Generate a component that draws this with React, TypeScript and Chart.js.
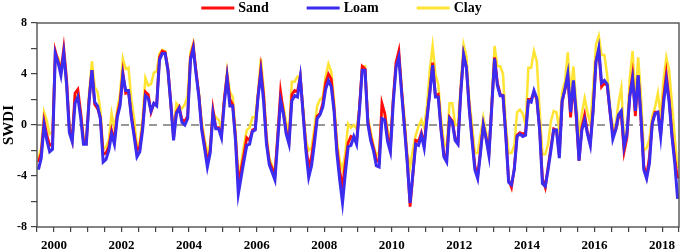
import React, { useEffect, useRef } from 'react';
import { Chart, registerables } from 'chart.js';

Chart.register(...registerables);

// Time axis: monthly values, the axis runs from mid-1999 to mid-2018
const axisStartYear = 1999.5;
const axisEndYear = 2018.5;

const seriesNames = ['Sand', 'Loam', 'Clay'];

const sand = [
  -2.9, -2.2, 0.3, -0.8, -1.6, -1.5, 5.8, 5.0, 4.2, 6.0, 3.6, -0.3,
  -1.2, 2.5, 2.8, 1.0, -1.2, -1.4, 2.0, 4.3, 1.6, 1.3, 0.6, -2.3,
  -2.2, -1.7, -0.4, -1.2, 0.8, 1.8, 4.1, 2.5, 2.6, 0.8, -0.7, -2.0,
  -1.7, -0.2, 2.6, 2.4, 1.0, 1.7, 1.6, 5.3, 5.8, 5.7, 4.4, 1.8,
  -1.0, 1.0, 1.4, 0.4, 0.3, 0.7, 5.3, 6.2, 4.2, 2.3, -0.2, -1.5,
  -2.9, -2.0, 1.2, -0.2, -0.2, -0.8, 2.0, 3.9, 2.0, 1.6, -1.0, -4.5,
  -3.5, -2.3, -1.0, -1.2, -0.4, -0.3, 2.3, 4.4, 2.3, -1.2, -2.9, -3.4,
  -3.9, -0.8, 2.6, 1.0, -0.5, -1.3, 2.4, 2.7, 2.6, 3.8, 1.0, -1.7,
  -3.3, -2.5, -1.0, 0.7, 0.9, 1.7, 3.3, 4.0, 3.6, 1.3, -1.8, -3.6,
  -4.9, -3.0, -1.4, -0.9, -1.0, -1.3, 1.3, 4.6, 4.4, 0.3, -0.9, -1.8,
  -2.7, -2.9, 1.7, 0.9, -0.9, -1.8, 2.0, 4.9, 5.8, 2.7, 0.0, -2.8,
  -6.4, -3.9, -1.2, -1.3, -0.6, -1.5, 0.6, 2.6, 4.9, 2.3, 2.4, -0.3,
  -2.3, -2.5, 0.6, 0.3, -1.0, -1.4, 2.7, 5.5, 4.5, 1.4, -1.0, -3.2,
  -4.0, -2.0, 0.0, -1.0, -2.2, 1.5, 5.3, 3.3, 2.4, 2.3, -0.8, -4.3,
  -4.9, -3.4, -0.8, -0.6, -0.7, -0.6, 2.0, 2.0, 2.6, 2.0, -0.3, -4.2,
  -4.9, -3.3, -1.8, -0.3, -0.4, -2.3, 1.8, 2.8, 3.8, 0.6, 3.3, 0.6,
  -2.8, -0.2, 0.8, -0.6, -1.4, 1.2, 5.0, 5.9, 3.0, 3.3, 3.1, 1.0,
  -0.7, -0.4, 0.6, 0.9, -2.1, -1.0, 2.3, 3.9, 0.7, 3.9, 0.4, -3.2,
  -4.0, -2.5, 0.2, 1.0, 1.0, -0.8, 2.1, 4.0, 2.0, -0.7, -2.7, -4.2,
];

const loam = [
  -3.5, -2.6, 0.0, -1.2, -2.1, -1.9, 5.6, 4.9, 3.9, 5.6, 3.2, -0.6,
  -1.3, 1.7, 2.2, 0.6, -1.5, -1.5, 1.9, 4.3, 1.8, 1.5, 0.5, -2.9,
  -2.7, -2.0, -0.7, -1.5, 0.6, 1.5, 3.9, 2.7, 2.7, 0.6, -0.9, -2.5,
  -2.1, -0.4, 2.3, 2.1, 1.1, 1.7, 1.5, 5.1, 5.6, 5.6, 4.3, 1.7,
  -1.2, 0.9, 1.3, 0.2, 0.0, 0.5, 5.1, 6.0, 4.0, 2.2, -0.4, -1.8,
  -3.3, -2.2, 0.9, -0.3, -0.3, -1.0, 1.7, 3.7, 1.5, 1.5, -1.2, -5.4,
  -4.1, -2.8, -1.6, -1.5, -0.5, -0.4, 2.2, 4.1, 1.8, -1.5, -3.1, -3.7,
  -4.3, -1.2, 1.9, 0.9, -0.7, -1.5, 1.9, 2.3, 2.2, 3.75, 0.9, -2.0,
  -4.1, -3.2, -1.5, 0.5, 0.8, 1.4, 2.8, 3.5, 3.0, 1.1, -2.2, -4.3,
  -6.1, -3.8, -1.7, -1.6, -0.9, -1.5, 1.1, 4.3, 4.3, 0.1, -1.2, -2.0,
  -3.2, -3.3, 0.5, 0.4, -1.3, -2.1, 1.7, 4.5, 5.3, 2.5, -0.2, -3.0,
  -6.1, -3.8, -1.5, -1.6, -0.8, -1.8, 0.5, 2.5, 4.7, 2.2, 2.2, -0.4,
  -2.5, -2.9, 0.5, 0.2, -1.2, -1.5, 2.5, 5.5, 4.5, 1.3, -1.2, -3.5,
  -4.2, -2.2, 0.0, -1.1, -2.4, 1.4, 5.2, 3.1, 2.3, 2.3, -0.9, -4.5,
  -4.7, -3.5, -0.9, -0.7, -0.9, -0.8, 1.9, 1.8, 2.7, 2.1, -0.4, -4.6,
  -4.8, -3.5, -2.0, -0.4, -0.4, -2.6, 1.9, 2.8, 4.0, 1.0, 3.5, 0.9,
  -2.8, -0.4, 0.4, -0.7, -1.6, 1.1, 4.9, 6.0, 3.3, 3.5, 3.2, 1.1,
  -1.1, -0.4, 0.8, 1.1, -1.7, -0.7, 2.2, 3.6, 1.1, 3.9, 0.6, -3.5,
  -4.2, -3.0, 0.1, 0.9, 1.0, -0.9, 1.7, 3.5, 1.8, -0.9, -3.0, -5.8,
];

const clay = [
  -2.6, -1.8, 1.0, 0.3, -0.7, -0.6, 5.5, 5.3, 4.5, 5.5, 3.0, -0.2,
  -1.0, 2.2, 2.4, 1.0, -1.0, -1.3, 2.5, 5.0, 3.0, 2.6, 1.2, -1.9,
  -1.7, -1.2, 0.9, -0.3, 1.2, 2.5, 5.2, 4.4, 4.5, 2.0, 0.5, -1.8,
  -1.3, 0.5, 3.7, 3.1, 3.2, 4.1, 4.2, 5.6, 5.9, 5.8, 4.0, 1.5,
  -0.4, 1.7, 1.4, 1.3, 1.6, 2.3, 5.7, 6.4, 4.0, 2.5, 0.3, -1.1,
  -2.2, -1.5, 1.0, 0.6, 0.4, -0.2, 2.0, 4.2, 2.6, 2.2, -0.4, -4.0,
  -3.0, -1.6, -0.4, -0.2, 0.6, 0.6, 2.6, 5.2, 2.8, -0.8, -2.6, -3.2,
  -3.7, -0.7, 1.9, 1.5, 0.2, -0.6, 3.4, 3.4, 3.8, 3.8, 1.4, -1.2,
  -2.0, -1.8, -0.2, 1.5, 2.0, 2.2, 3.8, 4.8, 4.2, 1.9, -1.2, -2.8,
  -3.5, -2.2, 0.1, -0.2, 0.0, -0.3, 1.3, 4.6, 4.6, 0.6, -0.5, -1.6,
  -2.4, -2.1, 1.3, 1.0, -0.4, -1.3, 2.1, 4.5, 5.5, 2.9, 0.6, -2.2,
  -3.3, -1.9, -0.8, -0.1, 0.4, -0.2, 1.5, 4.3, 6.2, 4.0, 3.2, 0.5,
  -1.4, -1.7, 1.7, 1.7, 0.0, 0.0, 3.2, 6.3, 5.4, 2.0, 0.0, -2.2,
  -2.2, -0.8, 0.6, -0.6, -2.0, 2.0, 6.2, 4.6, 4.6, 4.0, 0.0, -2.2,
  -2.2, -1.6, 1.0, 1.2, 0.9, 0.0, 4.5, 4.5, 5.8, 5.0, 1.2, -2.3,
  -2.3, -1.5, 0.3, 1.1, 1.0, -0.4, 2.6, 3.4, 5.7, 2.3, 4.6, 1.7,
  -0.6, 0.9, 2.1, 1.0, 0.1, 2.8, 6.3, 7.0, 5.5, 5.5, 3.9, 1.5,
  -0.3, 0.0, 1.7, 2.9, -1.0, -0.4, 3.6, 5.8, 2.0, 5.3, 2.3, -2.0,
  -1.8, -1.1, 0.7, 1.4, 2.5, 0.7, 3.5, 5.3, 4.3, 1.7, -1.0, -3.4,
];

const yTickLabels = [-8, -4, 0, 4, 8];
const xTickLabels = [2000, 2002, 2004, 2006, 2008, 2010, 2012, 2014, 2016, 2018];

const seriesColors = ['#ff0d0d', '#3b2cf0', '#ffe433'];

const FONT = "'Liberation Serif', 'Times New Roman', serif";

export default function App() {
  const canvasRef = useRef<HTMLCanvasElement>(null);

  useEffect(() => {
    document.body.style.margin = '0';
    const canvas = canvasRef.current;
    if (!canvas) return;

    const toPoints = (arr: number[]) =>
      arr.map((v, i) => ({ x: axisStartYear + (i + 0.5) / 12, y: v }));

    const values = [sand, loam, clay];
    const widths = [2.8, 3, 2.5];
    const orders = [1, 0, 2];

    const plugin = {
      id: 'swdiDecor',
      beforeDatasetsDraw(chart: any) {
        const { ctx, chartArea: a, scales } = chart;
        const y0 = scales.y.getPixelForValue(0);
        ctx.save();
        ctx.strokeStyle = '#333';
        ctx.lineWidth = 1.2;
        ctx.setLineDash([8, 6]);
        ctx.beginPath();
        ctx.moveTo(a.left, y0);
        ctx.lineTo(a.right, y0);
        ctx.stroke();
        ctx.restore();
      },
      afterDatasetsDraw(chart: any) {
        const { ctx, chartArea: a } = chart;
        ctx.save();
        ctx.strokeStyle = '#444';
        ctx.lineWidth = 1.3;
        ctx.strokeRect(a.left, a.top, a.right - a.left, a.bottom - a.top);
        ctx.restore();
      },
      afterDraw(chart: any) {
        const { ctx } = chart;
        const ds = chart.data.datasets;
        ctx.save();
        ctx.font = `bold 14px ${FONT}`;
        const lineW = 33;
        const gapText = 4;
        const gapItem = 38;
        const itemW = ds.map((d: any) => lineW + gapText + ctx.measureText(d.label).width);
        const total = itemW.reduce((s: number, w: number) => s + w, 0) + gapItem * (ds.length - 1);
        let x = chart.width / 2 - 1 - total / 2;
        const y = 8;
        ds.forEach((d: any, i: number) => {
          ctx.fillStyle = d.borderColor;
          ctx.fillRect(x, y - 1.5, lineW, 3);
          ctx.fillStyle = '#000';
          ctx.textBaseline = 'middle';
          ctx.textAlign = 'left';
          ctx.fillText(d.label, x + lineW + gapText, y + 0.5);
          x += itemW[i] + gapItem;
        });
        ctx.restore();
      },
    };

    const chart = new Chart(canvas, {
      type: 'line',
      data: {
        datasets: seriesNames.map((name, i) => ({
          label: name,
          data: toPoints(values[i]),
          borderColor: seriesColors[i],
          backgroundColor: seriesColors[i],
          borderWidth: widths[i],
          pointRadius: 0,
          tension: 0,
          fill: false,
          order: orders[i],
        })),
      },
      options: {
        responsive: false,
        animation: false,
        devicePixelRatio: 1,
        layout: { padding: { top: 23, right: 1, left: 0, bottom: 0 } },
        plugins: {
          legend: { display: false },
          tooltip: { enabled: false },
        },
        scales: {
          x: {
            type: 'linear',
            min: axisStartYear,
            max: axisEndYear,
            afterFit: (scale: any) => {
              scale.height = 24;
            },
            border: { display: false },
            grid: { drawOnChartArea: false, drawTicks: true, tickLength: 5, color: '#444', lineWidth: 1.2 },
            ticks: {
              stepSize: 0.5,
              autoSkip: false,
              maxRotation: 0,
              padding: 6,
              color: '#000',
              font: { family: FONT, size: 13, weight: 'bold' },
              callback: (v: any) => {
                const n = Number(v);
                return xTickLabels.includes(n) ? String(n) : '';
              },
            },
          },
          y: {
            min: -8,
            max: 8,
            afterFit: (scale: any) => {
              scale.width = 37;
            },
            border: { display: false },
            grid: { drawOnChartArea: false, drawTicks: true, tickLength: 6, color: '#444', lineWidth: 1.2 },
            title: {
              display: true,
              text: 'SWDI',
              color: '#000',
              padding: { top: 0, bottom: 0 },
              font: { family: FONT, size: 15, weight: 'bold' },
            },
            ticks: {
              stepSize: 2,
              padding: 4,
              color: '#000',
              font: { family: FONT, size: 12, weight: 'bold' },
              callback: (v: any) => {
                const n = Number(v);
                return yTickLabels.includes(n) ? String(n) : '';
              },
            },
          },
        },
      },
      plugins: [plugin],
    } as any);

    return () => chart.destroy();
  }, []);

  return (
    <div style={{ width: 685, height: 251 }}>
      <canvas ref={canvasRef} width={685} height={251} style={{ display: 'block' }} />
    </div>
  );
}
